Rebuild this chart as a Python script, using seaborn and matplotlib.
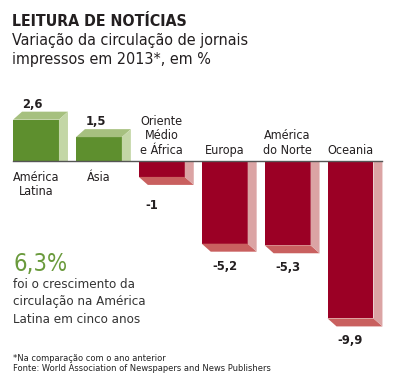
import os
import numpy as np
import pandas as pd
import seaborn as sns
import matplotlib
matplotlib.use('Agg')
import matplotlib.pyplot as plt
from matplotlib import font_manager as fm
from matplotlib.patches import Polygon

# data
regions = ['América\nLatina', 'Ásia', 'Oriente\nMédio\ne África', 'Europa', 'América\ndo Norte', 'Oceania']
change = [2.6, 1.5, -1.0, -5.2, -5.3, -9.9]
value_labels = ['2,6', '1,5', '-1', '-5,2', '-5,3', '-9,9']

title = 'LEITURA DE NOTÍCIAS'
subtitle = ['Variação da circulação de jornais', 'impressos em 2013*, em %']
highlight = '6,3%'
highlight_text = ['foi o crescimento da', 'circulação na América', 'Latina em cinco anos']
notes = ['*Na comparação com o ano anterior',
         'Fonte: World Association of Newspapers and News Publishers']

# colours
GREEN, GREEN_TOP, GREEN_SIDE = '#5e8f2e', '#a6c07f', '#c3d6a6'
RED, RED_BOTTOM, RED_SIDE = '#9b0025', '#c9605f', '#dba4a4'
INK = '#231f20'


# condensed font if available
def find_font(name):
    for f in fm.fontManager.ttflist:
        if os.path.basename(f.fname) == name:
            return f.fname
    return None

reg_path = find_font('DejaVuSansCondensed.ttf')
bold_path = find_font('DejaVuSansCondensed-Bold.ttf')


def fp(size, weight='normal'):
    path = bold_path if weight == 'bold' else reg_path
    if path:
        return fm.FontProperties(fname=path, size=size)
    return fm.FontProperties(family='DejaVu Sans', stretch='condensed', weight=weight, size=size)


W, H = 415, 391
fig = plt.figure(figsize=(W / 100, H / 100), dpi=100)
ax = fig.add_axes([0, 0, 1, 1])

colors = [GREEN if v > 0 else RED for v in change]
sns.barplot(x=regions, y=change, hue=regions, palette=colors, legend=False,
            width=0.73, linewidth=0, saturation=1, ax=ax)

# pixel scale of the axes
PX_X, X0 = 62.9, 36
PX_Y, Y0 = 15.9, 161
ax.set_xlim(-X0 / PX_X, (W - X0) / PX_X)
ax.set_ylim(-(H - Y0) / PX_Y, Y0 / PX_Y)
ax.axis('off')

dx = 9 / PX_X
dy = 8 / PX_Y
line_h = 14.7 / PX_Y

bars = sorted(ax.patches, key=lambda p: p.get_x())
for bar, lab, reg in zip(bars, value_labels, regions):
    v = bar.get_height()
    x0 = bar.get_x()
    x1 = x0 + bar.get_width()
    xc = x0 + bar.get_width() / 2
    lines = reg.split('\n')
    if v > 0:
        ax.add_patch(Polygon([(x0, v), (x1, v), (x1 + dx, v + dy), (x0 + dx, v + dy)],
                             closed=True, fc=GREEN_TOP, lw=0))
        ax.add_patch(Polygon([(x1, 0), (x1 + dx, 0), (x1 + dx, v + dy), (x1, v)],
                             closed=True, fc=GREEN_SIDE, lw=0))
        ax.text(xc - 0.05, v + dy + 4 / PX_Y, lab, ha='center', va='baseline',
                fontproperties=fp(9.3, 'bold'), color=INK)
        for i, ln in enumerate(lines):
            ax.text(xc, -19.7 / PX_Y - i * line_h, ln, ha='center', va='baseline',
                    fontproperties=fp(9), color=INK)
    else:
        ax.add_patch(Polygon([(x0, v), (x1, v), (x1 + dx, v - dy), (x0 + dx, v - dy)],
                             closed=True, fc=RED_BOTTOM, lw=0))
        ax.add_patch(Polygon([(x1, 0), (x1 + dx, 0), (x1 + dx, v - dy), (x1, v)],
                             closed=True, fc=RED_SIDE, lw=0))
        # the small bar's label sits lower and further left in the original
        off, shift = (24, 10) if v > -2 else (18, 0)
        ax.text(xc - shift / PX_X, v - dy - off / PX_Y, lab, ha='center', va='baseline',
                fontproperties=fp(9.3, 'bold'), color=INK)
        n = len(lines)
        for i, ln in enumerate(lines):
            ax.text(xc, 7 / PX_Y + (n - 1 - i) * line_h, ln, ha='center', va='baseline',
                    fontproperties=fp(9), color=INK)

# baseline
ax.plot([bars[0].get_x(), bars[-1].get_x() + bars[-1].get_width() + dx], [0, 0],
        color='#555555', lw=1, zorder=5)


def ftext(x, y, s, **kw):
    fig.text(x / W, 1 - y / H, s, va='baseline', ha='left', **kw)


ftext(12, 26, title, fontproperties=fp(11.4, 'bold'), color=INK)
ftext(12, 45.3, subtitle[0], fontproperties=fp(11.5), color=INK)
ftext(12, 64.3, subtitle[1], fontproperties=fp(11.5), color=INK)

ftext(13, 270.7, highlight, fontproperties=fp(17), color='#6a9a3c')
for i, ln in enumerate(highlight_text):
    ftext(13, 287.7 + i * 17.6, ln, fontproperties=fp(9.5), color='#333333')

ftext(13, 360.7, notes[0], fontproperties=fp(6.7), color='#222222')
ftext(13, 371, notes[1], fontproperties=fp(6.7), color='#222222')

fig.savefig('out.png', dpi=100, facecolor='white')
